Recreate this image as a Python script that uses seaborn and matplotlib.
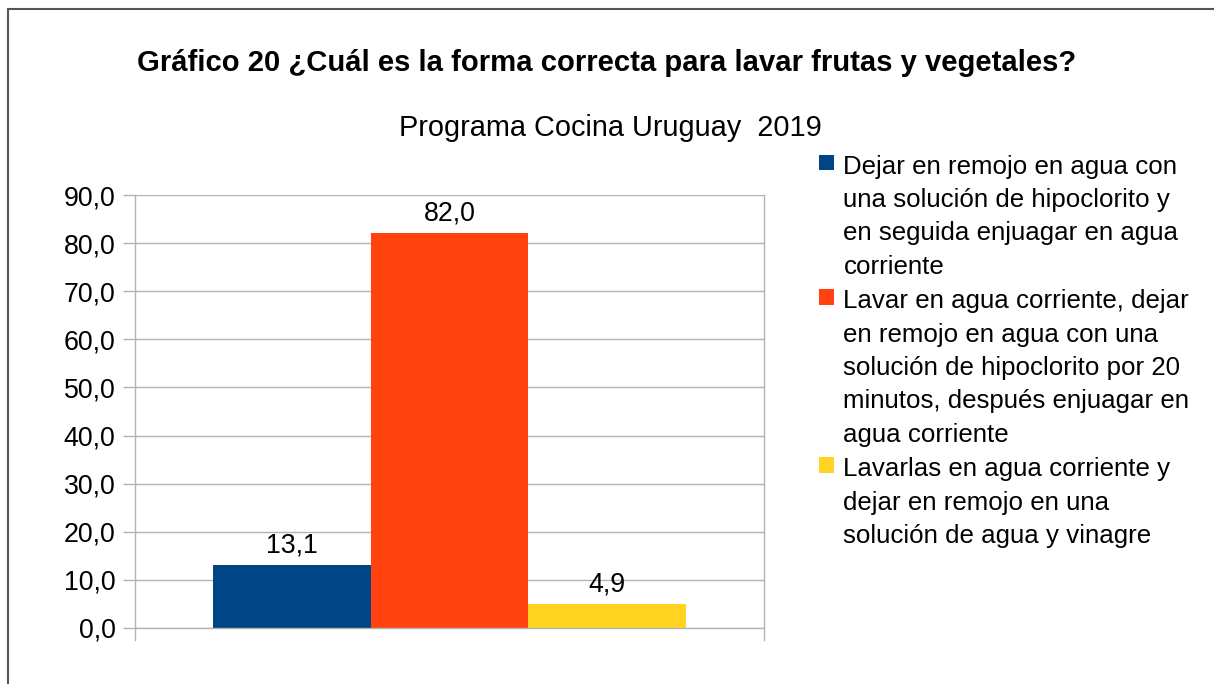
import matplotlib
matplotlib.use("Agg")
import pandas as pd
import seaborn as sns
import matplotlib.pyplot as plt
from matplotlib.patches import Patch
from matplotlib.lines import Line2D

# Chart data
title = "Gráfico 20 ¿Cuál es la forma correcta para lavar frutas y vegetales?"
subtitle = "Programa Cocina Uruguay  2019"
options = [
    "Dejar en remojo en agua con\nuna solución de hipoclorito y\nen seguida enjuagar en agua\ncorriente",
    "Lavar en agua corriente, dejar\nen remojo en agua con una\nsolución de hipoclorito por 20\nminutos, después enjuagar en\nagua corriente",
    "Lavarlas en agua corriente y\ndejar en remojo en una\nsolución de agua y vinagre",
]
values = [13.1, 82.0, 4.9]
colors = ["#004586", "#ff420e", "#ffd320"]
yticks = [0, 10, 20, 30, 40, 50, 60, 70, 80, 90]

df = pd.DataFrame({"grupo": [""] * len(values), "opcion": options, "valor": values})


def coma(v):
    return f"{v:.1f}".replace(".", ",")


sns.set_theme(style="white")
plt.rcParams["font.family"] = ["Liberation Sans", "DejaVu Sans"]

fig = plt.figure(figsize=(12.14, 6.84), dpi=100)
ax = fig.add_axes([0.1112, 0.0819, 0.5181, 0.633])

sns.barplot(data=df, x="grupo", y="valor", hue="opcion", palette=colors,
            width=0.752, gap=0, saturation=1, linewidth=0, legend=False, ax=ax)

for c in ax.containers:
    ax.bar_label(c, fmt=coma, padding=5, fontsize=19.3, color="black")

grid_col = "#b3b3b3"
ax.set_ylim(0, 90)
ax.set_yticks(yticks)
ax.set_yticklabels([coma(t) for t in yticks])
ax.set_xticks([])
ax.set_xlabel("")
ax.set_ylabel("")
ax.yaxis.grid(True, color=grid_col, linewidth=1)
ax.set_axisbelow(True)
ax.tick_params(axis="y", left=True, length=9, width=1, color=grid_col,
               pad=5, labelsize=19.3, labelcolor="black")

for side in ["left", "right", "bottom"]:
    ax.spines[side].set_visible(True)
    ax.spines[side].set_color(grid_col)
    ax.spines[side].set_linewidth(1)
ax.spines["top"].set_visible(False)
ax.spines["left"].set_bounds(-2.5, 90)
ax.spines["right"].set_bounds(-2.5, 90)

# titles
fig.text(0.4996, 0.908, title, ha="center", va="center",
         fontsize=21.1, fontweight="bold", color="black")
fig.text(0.503, 0.813, subtitle, ha="center", va="center",
         fontsize=20.8, color="black")

# legend, square aligned with the first line of each label
handles = [Patch(facecolor=col, edgecolor="none") for col in colors]
leg = fig.legend(handles, options, loc="upper left", bbox_to_anchor=(0.675, 0.774),
                 frameon=False, fontsize=18.6, borderpad=0, borderaxespad=0,
                 handlelength=0.55, handleheight=0.55, handletextpad=0.38,
                 labelspacing=0.42)
for t in leg.get_texts():
    t.set_linespacing(1.49)
    t.set_color("black")
for col in leg._legend_handle_box.get_children():
    for item in col.get_children():
        item.align = "top"

# outer frame (top and left edges only)
frame_col = "#555555"
fig.add_artist(Line2D([0.0066, 0.0066], [0, 0.9868], color=frame_col, linewidth=1.5))
fig.add_artist(Line2D([0.0066, 1.0], [0.9868, 0.9868], color=frame_col, linewidth=1.5))

fig.savefig("out.png", dpi=100)
